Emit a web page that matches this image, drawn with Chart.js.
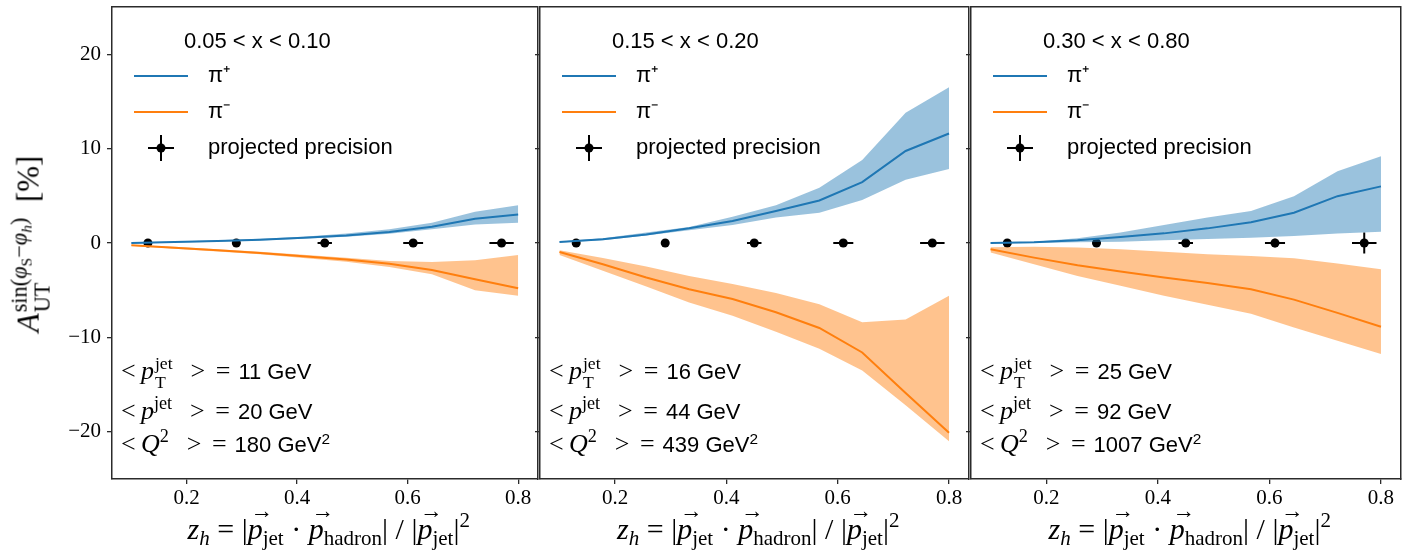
<!DOCTYPE html>
<html><head><meta charset="utf-8">
<script src="https://cdn.jsdelivr.net/npm/chart.js@4.4.1/dist/chart.umd.min.js"></script>
<style>
html,body{margin:0;padding:0;background:#fff;}
#wrap{position:relative;width:1405px;height:551px;overflow:hidden;background:#fff;}
canvas{position:absolute;top:0;}
.ann{position:absolute;white-space:nowrap;transform:translateY(-50%);color:#000;line-height:1;}
.m{font-family:"Liberation Serif",serif;font-size:26px;}
.s{font-family:"Liberation Sans",sans-serif;font-size:22px;}
.stk{display:inline-flex;flex-direction:column;vertical-align:middle;line-height:1.05;font-size:0.68em;margin-left:1px;font-style:normal;}
.stk>span{display:block;}
sup{font-size:0.7em;vertical-align:0.55em;line-height:0;}
sub{font-size:0.7em;vertical-align:-0.3em;line-height:0;}
.gap{display:inline-block;width:5px;}
.gap2{display:inline-block;width:4px;}
.vec{position:relative;display:inline-block;}
.vec::before{content:"\2192";position:absolute;left:0.12em;top:-0.62em;font-size:0.75em;font-style:normal;}
.title{position:absolute;white-space:nowrap;transform:translate(-50%,-50%);font-family:"Liberation Serif",serif;font-size:30px;color:#000;line-height:1;}
#ytitle{transform:translate(-50%,-50%) rotate(-90deg);font-size:31px;}
#ytitle .stk{font-size:0.72em;}
</style></head>
<body>
<div id="wrap">
  <canvas id="c0" width="542" height="551" style="left:0px;width:542px;height:551px"></canvas>
  <canvas id="c1" width="440" height="551" style="left:533px;width:440px;height:551px"></canvas>
  <canvas id="c2" width="441" height="551" style="left:964px;width:441px;height:551px"></canvas>
</div>
<script>
// ---------------- data ----------------
const Z = [0.1, 0.178, 0.256, 0.333, 0.411, 0.489, 0.567, 0.644, 0.722, 0.8];
const X_BINS = ['0.05 < x < 0.10', '0.15 < x < 0.20', '0.30 < x < 0.80'];

// panel 1 : 0.05 < x < 0.10
const PIP_1    = [0.0, 0.10, 0.20, 0.35, 0.56, 0.80, 1.16, 1.73, 2.58, 3.03];
const PIP_LO_1 = [-0.05, 0.03, 0.12, 0.26, 0.45, 0.67, 0.99, 1.45, 1.97, 2.15];
const PIP_HI_1 = [0.05, 0.16, 0.28, 0.44, 0.67, 1.00, 1.45, 2.15, 3.30, 4.00];
const PIM_1    = [-0.25, -0.50, -0.78, -1.06, -1.41, -1.76, -2.19, -2.86, -3.84, -4.80];
const PIM_HI_1 = [-0.20, -0.40, -0.65, -0.92, -1.25, -1.55, -1.90, -2.00, -1.83, -1.27];
const PIM_LO_1 = [-0.30, -0.60, -0.90, -1.20, -1.58, -1.98, -2.54, -3.30, -5.00, -5.60];

// panel 2 : 0.15 < x < 0.20
const PIP_2    = [0.10, 0.40, 0.90, 1.56, 2.34, 3.40, 4.50, 6.45, 9.75, 11.6];
const PIP_LO_2 = [0.05, 0.30, 0.80, 1.35, 1.90, 2.70, 3.20, 4.55, 6.70, 7.85];
const PIP_HI_2 = [0.15, 0.50, 1.10, 1.70, 2.77, 4.00, 5.85, 8.80, 13.8, 16.5];
const PIM_2    = [-0.95, -2.25, -3.65, -4.90, -5.93, -7.33, -9.00, -11.6, -15.9, -20.1];
const PIM_HI_2 = [-0.77, -1.60, -2.50, -3.50, -4.35, -5.30, -6.50, -8.40, -8.10, -5.60];
const PIM_LO_2 = [-1.26, -2.95, -4.60, -6.30, -7.70, -9.40, -11.2, -13.5, -17.2, -21.0];

// panel 3 : 0.30 < x < 0.80
const PIP_3    = [0.0, 0.07, 0.28, 0.63, 1.02, 1.55, 2.20, 3.20, 4.96, 6.00];
const PIP_LO_3 = [-0.03, 0.0, 0.07, 0.14, 0.28, 0.42, 0.56, 0.74, 1.00, 1.20];
const PIP_HI_3 = [0.02, 0.14, 0.50, 1.10, 1.90, 2.70, 3.40, 4.96, 7.60, 9.20];
const PIM_3    = [-0.67, -1.55, -2.36, -3.03, -3.66, -4.23, -4.90, -6.00, -7.40, -8.87];
const PIM_HI_3 = [-0.45, -0.40, -0.48, -0.67, -0.92, -1.20, -1.37, -1.62, -2.18, -2.78];
const PIM_LO_3 = [-1.00, -2.25, -3.50, -4.54, -5.60, -6.55, -7.50, -8.94, -10.35, -11.76];

// projected precision
const PREC_Z    = [0.13, 0.29, 0.45, 0.61, 0.77];
const PREC_ZERR = [0.004, 0.007, 0.013, 0.018, 0.022];
const PREC_A    = [0, 0, 0, 0, 0];
const PREC_AERR_1 = [0.10, 0.15, 0.20, 0.25, 0.30];
const PREC_AERR_2 = [0.10, 0.15, 0.25, 0.30, 0.40];
const PREC_AERR_3 = [0.15, 0.20, 0.30, 0.45, 1.10];

// annotations
const PT_JET = [11, 16, 25];
const P_JET  = [20, 44, 92];
const Q2     = [180, 439, 1007];

// ticks
const X_TICKS = [0.2, 0.4, 0.6, 0.8];
const Y_TICKS = [-20, -10, 0, 10, 20];

// ---------------- chart construction ----------------
const BLUE = '#1f77b4', ORANGE = '#ff7f0e';
const BLUE_BAND = 'rgba(31,119,180,0.45)', ORANGE_BAND = 'rgba(255,127,14,0.47)';
const FRAME = '#2b2b2b';

const PANELS = [
  {pip: PIP_1, pipLo: PIP_LO_1, pipHi: PIP_HI_1, pim: PIM_1, pimLo: PIM_LO_1, pimHi: PIM_HI_1, aerr: PREC_AERR_1},
  {pip: PIP_2, pipLo: PIP_LO_2, pipHi: PIP_HI_2, pim: PIM_2, pimLo: PIM_LO_2, pimHi: PIM_HI_2, aerr: PREC_AERR_2},
  {pip: PIP_3, pipLo: PIP_LO_3, pipHi: PIP_HI_3, pim: PIM_3, pimLo: PIM_LO_3, pimHi: PIM_HI_3, aerr: PREC_AERR_3}
];

function pts(xs, ys) { return xs.map((x, i) => ({x: x, y: ys[i]})); }
function hBars(xs, ys, ex) {
  const d = [];
  xs.forEach((x, i) => { d.push({x: x - ex[i], y: ys[i]}, {x: x + ex[i], y: ys[i]}, {x: x + ex[i], y: null}); });
  return d;
}
function vBars(xs, ys, ey) {
  const d = [];
  xs.forEach((x, i) => { d.push({x: x, y: ys[i] - ey[i]}, {x: x, y: ys[i] + ey[i]}, {x: x, y: null}); });
  return d;
}

// legend symbols
function lineImg(color) {
  const c = document.createElement('canvas'); c.width = 71; c.height = 30;
  const g = c.getContext('2d'); g.strokeStyle = color; g.lineWidth = 2;
  g.beginPath(); g.moveTo(8, 15); g.lineTo(62, 15); g.stroke();
  return c;
}
function errImg() {
  const c = document.createElement('canvas'); c.width = 71; c.height = 30;
  const g = c.getContext('2d'); g.strokeStyle = '#000'; g.fillStyle = '#000'; g.lineWidth = 2;
  g.beginPath(); g.moveTo(22, 15); g.lineTo(48, 15); g.moveTo(35, 2); g.lineTo(35, 28); g.stroke();
  g.beginPath(); g.arc(35, 15, 4.5, 0, Math.PI * 2); g.fill();
  return c;
}
const IMG_P = lineImg(BLUE), IMG_M = lineImg(ORANGE), IMG_E = errImg();

function makePanel(k) {
  const p = PANELS[k];
  const first = k === 0;
  const yWidth = first ? 112 : 7;
  const datasets = [
    {data: pts(Z, p.pipHi), borderWidth: 0, pointRadius: 0, fill: '+1', backgroundColor: BLUE_BAND},
    {data: pts(Z, p.pipLo), borderWidth: 0, pointRadius: 0, fill: false},
    {data: pts(Z, p.pimHi), borderWidth: 0, pointRadius: 0, fill: '+1', backgroundColor: ORANGE_BAND},
    {data: pts(Z, p.pimLo), borderWidth: 0, pointRadius: 0, fill: false},
    {data: pts(Z, p.pip), borderColor: BLUE, borderWidth: 2, pointRadius: 0, fill: false},
    {data: pts(Z, p.pim), borderColor: ORANGE, borderWidth: 2, pointRadius: 0, fill: false},
    {data: hBars(PREC_Z, PREC_A, PREC_ZERR), borderColor: '#000', borderWidth: 2, pointRadius: 0, fill: false, spanGaps: false, borderCapStyle: 'butt'},
    {data: vBars(PREC_Z, PREC_A, p.aerr), borderColor: '#000', borderWidth: 2, pointRadius: 0, fill: false, spanGaps: false, borderCapStyle: 'butt'},
    {data: pts(PREC_Z, PREC_A), showLine: false, pointRadius: 4.5, pointBackgroundColor: '#000', pointBorderWidth: 0, borderColor: '#000'}
  ];
  const noPad = s => { s.paddingTop = 0; s.paddingBottom = 0; s.paddingLeft = 0; s.paddingRight = 0; };
  return new Chart(document.getElementById('c' + k), {
    type: 'line',
    data: {datasets: datasets},
    options: {
      responsive: false, animation: false, devicePixelRatio: 1, events: [],
      layout: {padding: {top: 7, right: 2, left: 0, bottom: 0}},
      scales: {
        x: {
          type: 'linear', position: 'bottom', min: 0.065, max: 0.835,
          afterBuildTicks: s => { s.ticks = X_TICKS.map(v => ({value: v})); },
          afterFit: s => { s.height = 72; noPad(s); },
          ticks: {color: '#000', padding: 2, font: {family: 'Liberation Serif', size: 21}, callback: v => Number(v).toFixed(1)},
          grid: {drawOnChartArea: false, drawTicks: true, tickLength: 5, color: FRAME, lineWidth: 1.3},
          border: {display: true, color: FRAME, width: 1.5}
        },
        xTop: {
          type: 'linear', position: 'top', min: 0.065, max: 0.835, display: true,
          afterFit: s => { s.height = 0; noPad(s); },
          ticks: {display: false},
          grid: {drawOnChartArea: false, drawTicks: false},
          border: {display: true, color: FRAME, width: 1.5}
        },
        y: {
          type: 'linear', position: 'left', min: -25, max: 25,
          afterBuildTicks: s => { s.ticks = Y_TICKS.map(v => ({value: v})); },
          afterFit: s => { s.width = yWidth; noPad(s); },
          ticks: {display: first, color: '#000', padding: 6, font: {family: 'Liberation Serif', size: 21},
                  callback: v => (v < 0 ? '\u2212' + Math.abs(v) : String(v))},
          grid: {drawOnChartArea: false, drawTicks: true, tickLength: 5, color: FRAME, lineWidth: 1.3},
          border: {display: true, color: FRAME, width: 1.5}
        },
        yRight: {
          type: 'linear', position: 'right', min: -25, max: 25, display: true,
          afterFit: s => { s.width = 0; noPad(s); },
          ticks: {display: false},
          grid: {drawOnChartArea: false, drawTicks: false},
          border: {display: true, color: FRAME, width: 1.5}
        }
      },
      plugins: {
        tooltip: {enabled: false},
        legend: {
          display: true, position: 'chartArea', align: 'start',
          title: {display: true, text: X_BINS[k], position: 'center', color: '#000',
                  font: {family: 'Liberation Sans', size: 22, lineHeight: '20px'}, padding: {top: 31, bottom: 0}},
          labels: {
            usePointStyle: true, pointStyleWidth: 71, padding: 14, color: '#000',
            font: {family: 'Liberation Sans', size: 22},
            generateLabels: () => [
              {text: '\u03c0\u207a', pointStyle: IMG_P, fillStyle: BLUE, strokeStyle: BLUE, lineWidth: 0, hidden: false, datasetIndex: 4},
              {text: '\u03c0\u207b', pointStyle: IMG_M, fillStyle: ORANGE, strokeStyle: ORANGE, lineWidth: 0, hidden: false, datasetIndex: 5},
              {text: 'projected precision', pointStyle: IMG_E, fillStyle: '#000', strokeStyle: '#000', lineWidth: 0, hidden: false, datasetIndex: 8}
            ]
          }
        }
      }
    }
  });
}

const charts = [0, 1, 2].map(makePanel);

// ---------------- text overlays (math labels) ----------------
const wrap = document.getElementById('wrap');
function addDiv(cls, html, left, top, id) {
  const d = document.createElement('div');
  d.className = cls; d.innerHTML = html;
  d.style.left = left + 'px'; d.style.top = top + 'px';
  if (id) d.id = id;
  wrap.appendChild(d);
  return d;
}
charts.forEach((ch, k) => {
  const left = ch.canvas.offsetLeft + ch.chartArea.left;
  const right = ch.canvas.offsetLeft + ch.chartArea.right;
  addDiv('ann', '<span class="m">&lt;&thinsp;<i>p</i><span class="stk"><span>jet</span><span>T</span></span><span class="gap"></span>&ensp;&gt;<span class="gap2"></span> =</span>&ensp;<span class="s">' + PT_JET[k] + ' GeV</span>', left + 9, 373);
  addDiv('ann', '<span class="m">&lt;&thinsp;<i>p</i><sup>jet</sup><span class="gap"></span>&ensp;&gt;<span class="gap2"></span> =</span>&ensp;<span class="s">' + P_JET[k] + ' GeV</span>', left + 9, 411);
  addDiv('ann', '<span class="m">&lt;&thinsp;<i>Q</i><sup>2</sup><span class="gap"></span>&ensp;&gt;<span class="gap2"></span> =</span>&ensp;<span class="s">' + Q2[k] + ' GeV<sup>2</sup></span>', left + 9, 444);
  addDiv('title', '<i>z</i><sub><i>h</i></sub> = |<span class="vec"><i>p</i></span><sub>jet</sub> · <span class="vec"><i>p</i></span><sub>hadron</sub>| / |<span class="vec"><i>p</i></span><sub>jet</sub>|<sup>2</sup>', (left + right) / 2 + 4, 529);
});
addDiv('title', '<i>A</i><span class="stk"><span>sin(<i>φ</i><sub>S</sub>−<i>φ</i><sub><i>h</i></sub>)</span><span>UT</span></span>&ensp;[%]', 31, 244, 'ytitle');
</script>
</body></html>
